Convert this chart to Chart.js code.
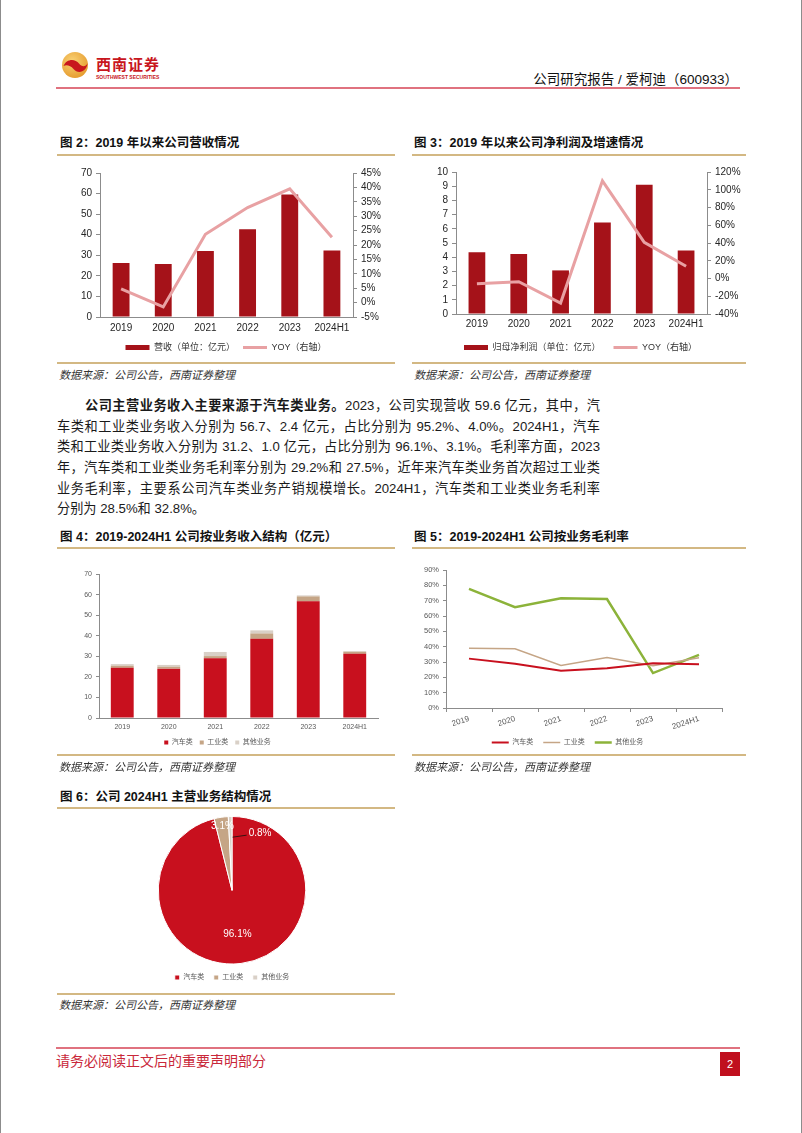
<!DOCTYPE html>
<html lang="zh-CN">
<head>
<meta charset="utf-8">
<title>爱柯迪（600933）公司研究报告</title>
<script src="https://cdn.jsdelivr.net/npm/chart.js@4.4.1/dist/chart.umd.min.js"></script>
<style>
  body { margin: 0; background: #fff; }
  #page {
    position: relative; width: 802px; height: 1133px; overflow: hidden; background: #fff;
    font-family: "Liberation Sans", Arial, "Noto Sans CJK SC", sans-serif; color: #1a1a1a;
  }
  .abs { position: absolute; }
  .edge { position: absolute; top: 0; bottom: 0; width: 1px; background: #8c8c8c; }
  .redline { position: absolute; height: 2px; background: #E0727F; }
  .rule { position: absolute; height: 1.5px; background: #D3B883; }
  .title { position: absolute; font-weight: bold; font-size: 12.5px; line-height: 16px; color: #111; white-space: nowrap; }
  .src { position: absolute; font-style: italic; font-size: 11px; line-height: 14px; color: #333; white-space: nowrap; }
  .para { position: absolute; font-size: 13.2px; color: #1a1a1a; }
  .para div { height: 20.7px; line-height: 20.7px; text-align: justify; text-align-last: justify; }
  .para div.last { text-align-last: left; }
  canvas { position: absolute; }
</style>
</head>
<body>
<div id="page">
  <div class="edge" style="left:0"></div>
  <div class="edge" style="left:801px"></div>

  <!-- header -->
  <svg class="abs" style="left:61px;top:51px" width="28" height="28" viewBox="0 0 28 28">
    <defs>
      <radialGradient id="gold" cx="40%" cy="35%" r="70%">
        <stop offset="0" stop-color="#F9D276"/>
        <stop offset="1" stop-color="#E59A2C"/>
      </radialGradient>
    </defs>
    <circle cx="14" cy="14" r="13" fill="url(#gold)"/>
    <path d="M2.5,15 C5,8 14,7 18,12.5 C21,16.5 25,16 26.5,12 C26,21 17,23.5 12.5,18 C9.5,14.5 5.5,13.5 2.5,15 Z" fill="#C8161D"/>
  </svg>
  <div class="abs" style="left:96px;top:55px;font-family:'Noto Sans CJK SC';font-weight:bold;font-size:15px;line-height:18px;letter-spacing:1px;color:#C8161D;">西南证券</div>
  <div class="abs" style="left:96px;top:74px;font-weight:bold;font-size:5px;line-height:6px;color:#C8161D;white-space:nowrap;">SOUTHWEST SECURITIES</div>
  <div class="abs" style="right:64px;top:71px;font-size:13.5px;line-height:18px;color:#111;white-space:nowrap;">公司研究报告 / 爱柯迪（600933）</div>
  <div class="redline" style="left:56px;top:87px;width:684px"></div>

  <!-- fig 2 / fig 3 -->
  <div class="title" style="left:60px;top:135px">图 2：2019 年以来公司营收情况</div>
  <div class="title" style="left:414px;top:135px">图 3：2019 年以来公司净利润及增速情况</div>
  <div class="rule" style="left:57px;top:154px;width:338px"></div>
  <div class="rule" style="left:412px;top:154px;width:334px"></div>
  <canvas id="c2" width="338" height="204" style="left:57px;top:158px"></canvas>
  <canvas id="c3" width="335" height="204" style="left:413px;top:158px"></canvas>
  <div class="rule" style="left:57px;top:362px;width:338px"></div>
  <div class="rule" style="left:412px;top:362px;width:334px"></div>
  <div class="src" style="left:59px;top:368px">数据来源：公司公告，西南证券整理</div>
  <div class="src" style="left:414px;top:368px">数据来源：公司公告，西南证券整理</div>

  <!-- paragraph -->
  <div class="para" style="left:57px;top:396px;width:543px">
    <div style="text-indent:28px"><b>公司主营业务收入主要来源于汽车类业务。</b>2023，公司实现营收 59.6 亿元，其中，汽</div>
    <div>车类和工业类业务收入分别为 56.7、2.4 亿元，占比分别为 95.2%、4.0%。2024H1，汽车</div>
    <div>类和工业类业务收入分别为 31.2、1.0 亿元，占比分别为 96.1%、3.1%。毛利率方面，2023</div>
    <div>年，汽车类和工业类业务毛利率分别为 29.2%和 27.5%，近年来汽车类业务首次超过工业类</div>
    <div>业务毛利率，主要系公司汽车类业务产销规模增长。2024H1，汽车类和工业类业务毛利率</div>
    <div class="last">分别为 28.5%和 32.8%。</div>
  </div>

  <!-- fig 4 / fig 5 -->
  <div class="title" style="left:60px;top:529px">图 4：2019-2024H1 公司按业务收入结构（亿元）</div>
  <div class="title" style="left:414px;top:529px">图 5：2019-2024H1 公司按业务毛利率</div>
  <div class="rule" style="left:57px;top:547px;width:338px"></div>
  <div class="rule" style="left:412px;top:547px;width:334px"></div>
  <canvas id="c4" width="338" height="196" style="left:57px;top:560px"></canvas>
  <canvas id="c5" width="335" height="196" style="left:413px;top:560px"></canvas>
  <div class="rule" style="left:57px;top:754px;width:338px"></div>
  <div class="rule" style="left:412px;top:754px;width:334px"></div>
  <div class="src" style="left:59px;top:760px">数据来源：公司公告，西南证券整理</div>
  <div class="src" style="left:414px;top:760px">数据来源：公司公告，西南证券整理</div>

  <!-- fig 6 -->
  <div class="title" style="left:60px;top:789px">图 6：公司 2024H1 主营业务结构情况</div>
  <div class="rule" style="left:57px;top:807px;width:338px"></div>
  <canvas id="c6" width="338" height="179" style="left:57px;top:812px"></canvas>
  <div class="rule" style="left:57px;top:993px;width:338px"></div>
  <div class="src" style="left:59px;top:998px">数据来源：公司公告，西南证券整理</div>

  <!-- footer -->
  <div class="redline" style="left:56px;top:1047px;width:684px"></div>
  <div class="abs" style="left:56px;top:1051px;font-family:'Noto Sans CJK SC';font-size:14px;line-height:18px;color:#C9283A;white-space:nowrap;">请务必阅读正文后的重要声明部分</div>
  <div class="abs" style="left:720px;top:1052px;width:20px;height:24px;background:#C00F1E;color:#fff;font-size:11px;line-height:24px;text-align:center;">2</div>
</div>

<script>
// ---- data ----
const years = ["2019", "2020", "2021", "2022", "2023", "2024H1"];

// 图2: 营收 (亿元) & YOY (%)
const revenue = [26.2, 25.8, 32.1, 42.6, 59.6, 32.3];
const revenueYoy = [4.8, -1.5, 23.7, 33.0, 39.5, 22.7];

// 图3: 归母净利润 (亿元) & YOY (%)
const netProfit = [4.35, 4.22, 3.07, 6.45, 9.1, 4.48];
const profitYoy = [-6.0, -3.7, -27.7, 110.0, 40.7, 13.8];

// 图4: 收入结构 (亿元)
const autoRev = [24.4, 24.0, 29.0, 38.5, 56.7, 31.2];
const industRev = [1.0, 0.9, 1.1, 2.6, 2.4, 1.0];
const otherRev = [0.8, 0.9, 2.0, 1.5, 0.5, 0.3];

// 图5: 毛利率 (%)
const autoMargin = [32.2, 28.9, 24.3, 26.0, 29.2, 28.5];
const industMargin = [39.0, 38.6, 27.8, 33.0, 27.5, 32.8];
const otherMargin = [77.7, 65.7, 71.6, 71.1, 22.8, 34.7];

// 图6: 2024H1 结构 (%)
const segNames = ["汽车类", "工业类", "其他业务"];
const segShare = [96.1, 3.1, 0.8];

// ---- styles ----
const darkRed = "#A51219";
const pink = "#E8A1A3";
const red = "#C8101E";
const tan = "#C5A586";
const lightGray = "#D9D0C7";
const green = "#8CB33A";
const axisGray = "#8C8C8C";

Chart.defaults.font.family = '"Liberation Sans", Arial, "Noto Sans CJK SC", sans-serif';
Chart.defaults.animation = false;
Chart.defaults.plugins.tooltip.enabled = false;

// fixed axis boxes so the plot areas line up with the page
const fixW = (w) => (s) => { s.width = w; };
const fixH = (h) => (s) => { s.height = h; };
const pct = (v) => v + "%";

function sideAxis(pos, min, max, step, width, opts = {}) {
  return {
    position: pos,
    min, max,
    ticks: { stepSize: step, autoSkip: false, padding: 4, font: { size: opts.size || 10 },
      color: opts.color || "#262626", callback: opts.cb },
    grid: { drawOnChartArea: false, tickLength: opts.tick ?? 4, color: axisGray },
    border: { color: axisGray },
    afterFit: fixW(width),
  };
}

function catAxis(height, size, color, pad) {
  return {
    grid: { display: false, drawTicks: false },
    border: { color: axisGray },
    ticks: { padding: pad, font: { size }, color },
    afterFit: fixH(height),
  };
}

// 图2
new Chart(document.getElementById("c2"), {
  type: "bar",
  data: {
    labels: years,
    datasets: [
      { type: "bar", label: "营收（单位：亿元）", data: revenue, backgroundColor: darkRed, borderWidth: 0,
        barPercentage: 0.8, categoryPercentage: 0.5, yAxisID: "y", order: 1, pointStyle: "rect" },
      { type: "line", label: "YOY（右轴）", data: revenueYoy, borderColor: pink, backgroundColor: pink,
        borderWidth: 3, pointRadius: 0, yAxisID: "y1", order: 0, pointStyle: "line" },
    ],
  },
  options: {
    responsive: false,
    layout: { padding: { top: 15 } },
    plugins: {
      legend: {
        position: "bottom",
        labels: { usePointStyle: true, pointStyleWidth: 24, boxHeight: 5, padding: 8,
          font: { size: 9 }, color: "#333", sort: (a, b) => a.datasetIndex - b.datasetIndex },
      },
    },
    scales: {
      x: catAxis(18, 10, "#262626", 5),
      y: sideAxis("left", 0, 70, 10, 43),
      y1: sideAxis("right", -5, 45, 5, 42, { cb: pct }),
    },
  },
});

// 图3
new Chart(document.getElementById("c3"), {
  type: "bar",
  data: {
    labels: years,
    datasets: [
      { type: "bar", label: "归母净利润（单位：亿元）", data: netProfit, backgroundColor: darkRed, borderWidth: 0,
        barPercentage: 0.8, categoryPercentage: 0.5, yAxisID: "y", order: 1, pointStyle: "rect" },
      { type: "line", label: "YOY（右轴）", data: profitYoy, borderColor: pink, backgroundColor: pink,
        borderWidth: 3, pointRadius: 0, yAxisID: "y1", order: 0, pointStyle: "line" },
    ],
  },
  options: {
    responsive: false,
    layout: { padding: { top: 14 } },
    plugins: {
      legend: {
        position: "bottom",
        labels: { usePointStyle: true, pointStyleWidth: 24, boxHeight: 5, padding: 13,
          font: { size: 9 }, color: "#333", sort: (a, b) => a.datasetIndex - b.datasetIndex },
      },
    },
    scales: {
      x: catAxis(16, 10, "#262626", 4),
      y: sideAxis("left", 0, 10, 1, 43),
      y1: sideAxis("right", -40, 120, 20, 41, { cb: pct }),
    },
  },
});

// 图4
new Chart(document.getElementById("c4"), {
  type: "bar",
  data: {
    labels: years,
    datasets: [
      { label: "汽车类", data: autoRev, backgroundColor: red },
      { label: "工业类", data: industRev, backgroundColor: tan },
      { label: "其他业务", data: otherRev, backgroundColor: lightGray },
    ].map((d) => ({ ...d, borderWidth: 0, barPercentage: 0.82, categoryPercentage: 0.6 })),
  },
  options: {
    responsive: false,
    layout: { padding: { top: 14, right: 17 } },
    plugins: {
      legend: {
        position: "bottom",
        labels: { boxWidth: 4, boxHeight: 4, padding: 7, font: { size: 7 }, color: "#595959" },
      },
    },
    scales: {
      x: { ...catAxis(14, 7, "#595959", 5), stacked: true },
      y: { ...sideAxis("left", 0, 70, 10, 42, { size: 7, color: "#595959", tick: 3 }), stacked: true },
    },
  },
});

// 图5
new Chart(document.getElementById("c5"), {
  type: "line",
  data: {
    labels: years,
    datasets: [
      { label: "汽车类", data: autoMargin, borderColor: red, backgroundColor: red, borderWidth: 2 },
      { label: "工业类", data: industMargin, borderColor: tan, backgroundColor: tan, borderWidth: 1.5 },
      { label: "其他业务", data: otherMargin, borderColor: green, backgroundColor: green, borderWidth: 2.5 },
    ].map((d) => ({ ...d, pointRadius: 0, tension: 0 })),
  },
  options: {
    responsive: false,
    layout: { padding: { top: 10, right: 26 } },
    plugins: {
      legend: {
        position: "bottom",
        labels: { usePointStyle: true, pointStyle: "line", pointStyleWidth: 17, padding: 10,
          font: { size: 7 }, color: "#595959" },
      },
    },
    scales: {
      x: {
        offset: true,
        grid: { offset: true, drawOnChartArea: false, tickLength: 4, color: axisGray },
        border: { color: axisGray },
        ticks: { autoSkip: false, minRotation: 18, maxRotation: 18, padding: 2, font: { size: 8 }, color: "#595959" },
        afterFit: fixH(21),
      },
      y: sideAxis("left", 0, 90, 10, 33, { size: 7.5, color: "#595959", tick: 3, cb: pct }),
    },
  },
});

// 图6 labels drawn from the arc elements
const pieLabels = {
  id: "pieLabels",
  afterDatasetsDraw(chart) {
    const { ctx } = chart;
    const arcs = chart.getDatasetMeta(0).data;
    const radiusAt = [0.6, 0.88];
    ctx.save();
    ctx.font = '10px "Liberation Sans", Arial, sans-serif';
    ctx.fillStyle = "#fff";
    ctx.textBaseline = "middle";
    arcs.forEach((arc, i) => {
      const { x, y, startAngle, endAngle, outerRadius } =
        arc.getProps(["x", "y", "startAngle", "endAngle", "outerRadius"], true);
      const mid = (startAngle + endAngle) / 2;
      const text = segShare[i].toFixed(1) + "%";
      if (i < radiusAt.length) {
        ctx.textAlign = "center";
        ctx.fillText(text, x + Math.cos(mid) * outerRadius * radiusAt[i], y + Math.sin(mid) * outerRadius * radiusAt[i]);
      } else {
        const sx = x + Math.cos(mid) * outerRadius * 0.72 + 2;
        const sy = y + Math.sin(mid) * outerRadius * 0.72;
        ctx.strokeStyle = "#3a1010";
        ctx.lineWidth = 1;
        ctx.beginPath();
        ctx.moveTo(sx, sy);
        ctx.lineTo(sx + 14, sy - 2);
        ctx.stroke();
        ctx.textAlign = "left";
        ctx.fillText(text, sx + 16, sy - 4);
      }
    });
    ctx.restore();
  },
};

new Chart(document.getElementById("c6"), {
  type: "pie",
  data: {
    labels: segNames,
    datasets: [{ data: segShare, backgroundColor: [red, tan, lightGray], borderColor: "#fff", borderWidth: 1 }],
  },
  options: {
    responsive: false,
    layout: { padding: { top: 4, left: 12 } },
    plugins: {
      legend: {
        position: "bottom",
        labels: { boxWidth: 5, boxHeight: 5, padding: 9.5, font: { size: 7 }, color: "#595959" },
      },
    },
  },
  plugins: [pieLabels],
});
</script>
</body>
</html>
